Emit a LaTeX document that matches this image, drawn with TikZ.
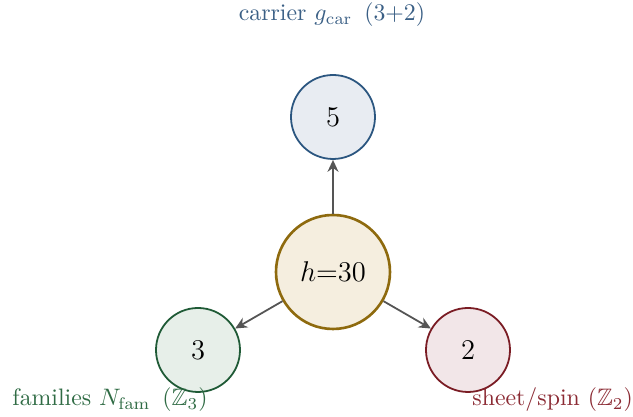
\documentclass[tikz,border=0pt]{standalone}
\usepackage{amssymb}
\usetikzlibrary{arrows.meta}
\definecolor{topc}{HTML}{2B5680}
\definecolor{topf}{HTML}{E8ECF2}
\definecolor{topt}{HTML}{3A5F85}
\definecolor{cenc}{HTML}{8E6A0E}
\definecolor{cenf}{HTML}{F5EEDF}
\definecolor{lefc}{HTML}{1F5A36}
\definecolor{leff}{HTML}{E7EFE9}
\definecolor{left}{HTML}{2F6B44}
\definecolor{rigc}{HTML}{7A1C24}
\definecolor{rigf}{HTML}{F2E6E8}
\definecolor{rigt}{HTML}{8B2A33}
\definecolor{arr}{HTML}{555555}
\begin{document}
\begin{tikzpicture}[x=0.42pt,y=-0.42pt,
  small/.style={circle,minimum size=84*0.42pt,inner sep=0pt,line width=0.75pt,font=\large},
  conn/.style={draw=arr,line width=0.75pt,-{Stealth[length=5pt,width=4.6pt,inset=1.6pt]}}]
\useasboundingbox (0,0) rectangle (633,417);
\node[circle,minimum size=114*0.42pt,inner sep=0pt,line width=1.1pt,draw=cenc,fill=cenf,font=\large] (c) at (333,272) {$h{=}30$};
\node[small,draw=topc,fill=topf] (t) at (333,117) {$5$};
\node[small,draw=lefc,fill=leff] (l) at (198,350) {$3$};
\node[small,draw=rigc,fill=rigf] (r) at (468,350) {$2$};
\draw[conn] (c) -- (t);
\draw[conn] (c) -- (l);
\draw[conn] (c) -- (r);
\node[text=topt,inner sep=0pt] (tl) at (332,15) {carrier $g_{\mathrm{car}}$\ \,(3+2)};
\node[text=left,inner sep=0pt,anchor=west] (ll) at (12,400) {families $N_{\mathrm{fam}}$\ \,($\mathbb{Z}_3$)};
\node[text=rigt,inner sep=0pt,anchor=west] (rl) at (472,400) {sheet/spin ($\mathbb{Z}_2$)};
\end{tikzpicture}
\end{document}
